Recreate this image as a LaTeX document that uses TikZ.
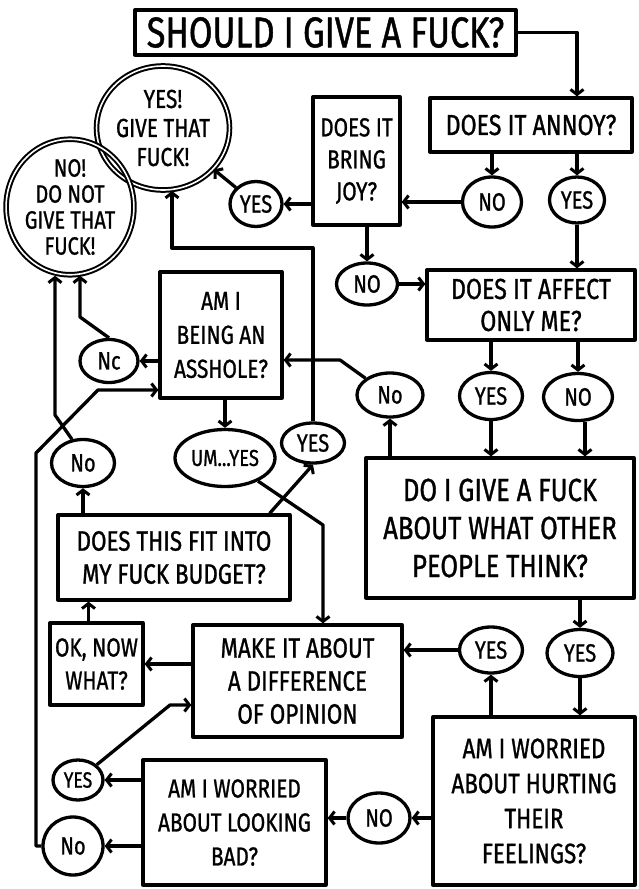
\documentclass[tikz,border=0pt]{standalone}
\usepackage{fontspec}
\setmainfont{Fira Sans}[FakeStretch=0.8, FakeBold=1]
\usetikzlibrary{shapes.geometric,arrows.meta,calc}
\newcommand\fsz[2]{\fontsize{#1}{#2}\selectfont}
\begin{document}
\begin{tikzpicture}[x=1pt,y=-1pt,
  box/.style={draw, line width=3.3pt, inner sep=0pt, align=center, line join=round},
  oval/.style={draw, ellipse, line width=3.3pt, inner sep=0pt, align=center, font=\fsz{25}{28}},
  term/.style={draw, ellipse, line width=2pt, double=white, double distance=1.6pt, inner sep=0pt, align=center},
  arr/.style={line width=3.3pt, line join=round, -{Straight Barb[length=5pt,width=13pt,line width=3pt]}}
]
\useasboundingbox (0,0) rectangle (639,889);
% boxes
\node[box, minimum width=381pt, minimum height=45pt, font=\fsz{43}{46}] (title) at (325.5,32.5) {SHOULD I GIVE A FUCK?};
\node[box, minimum width=202pt, minimum height=54pt, font=\fsz{29}{32}] (annoy) at (531,125) {DOES IT ANNOY?};
\node[box, minimum width=87pt, minimum height=128pt, font=\fsz{26}{32}] (joy) at (356.5,161) {DOES IT\\BRING\\JOY?};
\node[box, minimum width=208pt, minimum height=70pt, font=\fsz{29}{32}] (affect) at (531,305) {DOES IT AFFECT\\ONLY ME?};
\node[box, minimum width=122pt, minimum height=126pt, font=\fsz{26}{34}] (asshole) at (221,335) {AM I\\BEING AN\\ASSHOLE?};
\node[box, minimum width=268pt, minimum height=140pt, font=\fsz{32}{38}] (doigive) at (500,528) {DO I GIVE A FUCK\\ABOUT WHAT OTHER\\PEOPLE THINK?};
\node[box, minimum width=232pt, minimum height=85pt, font=\fsz{28}{33}] (budget) at (174,557.5) {DOES THIS FIT INTO\\MY FUCK BUDGET?};
\node[box, minimum width=93pt, minimum height=82pt, font=\fsz{26}{33}] (oknow) at (96.5,664) {OK, NOW\\WHAT?};
\node[box, minimum width=209pt, minimum height=112pt, font=\fsz{28}{33}] (make) at (297.5,681) {MAKE IT ABOUT\\A DIFFERENCE\\OF OPINION};
\node[box, minimum width=202pt, minimum height=168pt, font=\fsz{28}{35}] (hurting) at (534,801) {AM I WORRIED\\ABOUT HURTING\\THEIR\\FEELINGS?};
\node[box, minimum width=183pt, minimum height=125pt, font=\fsz{26}{34}] (lookbad) at (234.5,822.5) {AM I WORRIED\\ABOUT LOOKING\\BAD?};
% terminals
\node[term, minimum width=116pt, minimum height=124pt, font=\fsz{26}{29}] (give) at (163,128) {YES!\\GIVE THAT\\FUCK!};
\node[term, minimum width=122pt, minimum height=128pt, font=\fsz{25}{26}] (nogive) at (70,207) {NO!\\DO NOT\\GIVE THAT\\FUCK!};
% ovals
\node[oval, minimum width=52pt, minimum height=45pt] (yesJoy) at (256,204) {YES};
\node[oval, minimum width=59pt, minimum height=50pt] (noAnnoy) at (492,202) {NO};
\node[oval, minimum width=55pt, minimum height=46pt] (yesAnnoy) at (577,200) {YES};
\node[oval, minimum width=61pt, minimum height=42pt] (noJoy) at (367,284) {NO};
\node[oval, minimum width=58pt, minimum height=43pt] (nc) at (109,361) {Nc};
\node[oval, minimum width=66pt, minimum height=44pt] (noDo) at (390,395) {No};
\node[oval, minimum width=63pt, minimum height=47pt] (yesAff) at (491,396) {YES};
\node[oval, minimum width=69pt, minimum height=47pt] (noAff) at (578,397) {NO};
\node[oval, minimum width=100pt, minimum height=57pt, font=\fsz{23}{26}] (umyes) at (225,458) {UM...YES};
\node[oval, minimum width=63pt, minimum height=40pt] (yesBud) at (313,443) {YES};
\node[oval, minimum width=63pt, minimum height=47pt] (noBud) at (83,463) {No};
\node[oval, minimum width=63pt, minimum height=46pt] (yesMake) at (491,650) {YES};
\node[oval, minimum width=66pt, minimum height=47pt] (yesHurt) at (580,653) {YES};
\node[oval, minimum width=62pt, minimum height=50pt] (noHurt) at (379,818) {NO};
\node[oval, minimum width=50pt, minimum height=40pt, font=\fsz{22}{26}] (yesLook) at (78,780) {YES};
\node[oval, minimum width=60pt, minimum height=58pt] (noLook) at (73,846) {No};
% helper coordinates
\coordinate (c1) at (340,360);
\coordinate (c2) at (80,317);
\coordinate (c3) at (323,525);
\coordinate (c4) at (172,248);
\coordinate (c5) at (55,415);
\coordinate (c6) at (170,705);
\coordinate (c7) at (36,453);
\coordinate (c8) at (98,390);
% connectors
\draw[arr] (title.east) -| (annoy.north -| yesAnnoy);
\draw[arr] (noAnnoy.north |- annoy.south) -- (noAnnoy.north);
\draw[arr] (yesAnnoy.north |- annoy.south) -- (yesAnnoy.north);
\draw[arr] (noAnnoy.west) -- (noAnnoy.west -| joy.east);
\draw[arr] (yesAnnoy.south) -- (yesAnnoy.south |- affect.north);
\draw[arr] (joy.west |- yesJoy.east) -- (yesJoy.east);
\draw[arr] (yesJoy) -- (give);
\draw[arr] (noJoy.north |- joy.south) -- (noJoy.north);
\draw[arr] (noJoy.east) -- (noJoy.east -| affect.west);
\draw[arr] (yesAff.north |- affect.south) -- (yesAff.north);
\draw[arr] (noAff.north |- affect.south) -- (noAff.north);
\draw[arr] (yesAff.south) -- (yesAff.south |- doigive.north);
\draw[arr] ([xshift=7pt]noAff.south) -- ([xshift=7pt]noAff.south |- doigive.north);
\draw[arr] (noDo.south |- doigive.north) -- (noDo.south);
\draw[arr] (noDo.north west) -- (c1) -- (c1 -| asshole.east);
\draw[arr] (nc.east -| asshole.west) -- (nc.east);
\draw[arr] (nc.north) -- (c2) -- (c2 |- nogive.south);
\draw[arr] (umyes.north |- asshole.south) -- (umyes.north);
\draw[arr] (umyes.-35) -- (c3) -- (c3 |- make.north);
\draw[arr] ($(budget.north east)+(-22,0)$) -- (yesBud.south);
\draw[arr] (yesBud.north) |- (c4) -- (c4 |- give.south);
\draw[arr] (noBud.south |- budget.north) -- (noBud.south);
\draw[arr] (noBud.115) -- (c5) -- (c5 |- nogive.south);
\draw[arr] ([xshift=-8pt]oknow.north) -- ([xshift=-8pt]oknow.north |- budget.south);
\draw[arr] (make.west |- oknow.east) -- (oknow.east);
\draw[arr] (yesMake.west) -- (yesMake.west -| make.east);
\draw[arr] (yesHurt.north |- doigive.south) -- (yesHurt.north);
\draw[arr] (yesMake.south |- hurting.north) -- (yesMake.south);
\draw[arr] (yesHurt.south) -- (yesHurt.south |- hurting.north);
\draw[arr] (noHurt.east -| hurting.west) -- (noHurt.east);
\draw[arr] (noHurt.west) -- (noHurt.west -| lookbad.east);
\draw[arr] (yesLook.east -| lookbad.west) -- (yesLook.east);
\draw[arr] (yesLook.north east) -- (c6) -- (c6 -| make.west);
\draw[arr] (noLook.east -| lookbad.west) -- (noLook.east);
\draw[arr] (noLook.west) -| (c7) -- (c8) -- (c8 -| asshole.west);
\end{tikzpicture}
\end{document}
